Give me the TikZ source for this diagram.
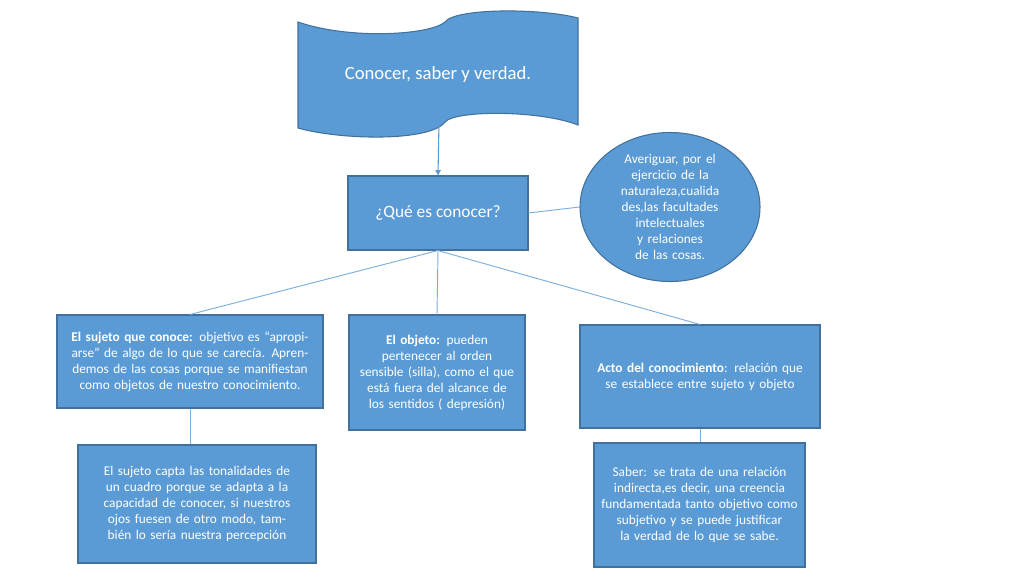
\documentclass[tikz,border=0pt]{standalone}
\usepackage{fontspec}
\setmainfont{Carlito}
\usetikzlibrary{arrows.meta,shapes.geometric}
\definecolor{fillb}{HTML}{5B9BD5}
\definecolor{edgeb}{HTML}{41719C}
\begin{document}
\begin{tikzpicture}[x=0.75pt,y=-0.75pt,
  bx/.style={draw=edgeb,fill=fillb,text=white,align=center,font=\fontsize{10}{12}\selectfont,inner sep=3pt,line width=0.8pt},
  ln/.style={draw=fillb!80,line width=0.7pt}]
\useasboundingbox (0,0) rectangle (1024,576);
\fill[white] (0,0) rectangle (1024,576);
\draw[draw=edgeb,fill=fillb,line width=0.8pt] (298,22) .. controls (350,40) and (430,35) .. (445,22) .. controls (455,8) and (540,8) .. (578,18) -- (578,125) .. controls (540,110) and (455,110) .. (445,122) .. controls (430,142) and (340,140) .. (298,128) -- cycle;
\node[text=white,font=\fontsize{14}{16}\selectfont] (t) at (438,75) {Conocer, saber y verdad.};
\coordinate (ta) at (439,122);
\node[bx,minimum width=180*0.75pt,minimum height=74*0.75pt,font=\fontsize{13}{15}\selectfont] (q) at (438,213) {¿Qué es conocer?};
\draw[fillb,line width=0.8pt,-{Triangle[width=4pt,length=4pt]}] (ta) -- (q.north);
\node[bx,ellipse,minimum width=180*0.75pt,minimum height=140*0.75pt,text width=78pt,inner sep=0pt] (e) at (670,207) {Averiguar, por el ejercicio de la naturaleza,cualida des,las facultades intelectuales y relaciones de las cosas.};
\draw[ln] (q.east) -- (e.west);
\node[bx,minimum width=266*0.75pt,minimum height=93*0.75pt,text width=190pt] (s) at (190,361.5) {\textbf{El sujeto que conoce:} objetivo es “apropiarse” de algo de lo que se carecía. Aprendemos de las cosas porque se manifiestan como objetos de nuestro conocimiento.};
\node[bx,minimum width=176*0.75pt,minimum height=115*0.75pt,text width=120pt] (o) at (437,372.5) {\textbf{El objeto:} pueden pertenecer al orden sensible (silla), como el que está fuera del alcance de los sentidos ( depresión)};
\node[bx,minimum width=240*0.75pt,minimum height=103*0.75pt,text width=170pt] (a) at (700,376.5) {\textbf{Acto del conocimiento}: relación que se establece entre sujeto y objeto};
\node[bx,minimum width=238*0.75pt,minimum height=118*0.75pt,text width=168pt] (s2) at (197,504) {El sujeto capta las tonalidades de un cuadro porque se adapta a la capacidad de conocer, si nuestros ojos fuesen de otro modo, también lo sería nuestra percepción};
\node[bx,minimum width=211*0.75pt,minimum height=124*0.75pt,text width=148pt] (a2) at (699.5,505) {Saber: se trata de una relación indirecta,es decir, una creencia fundamentada tanto objetivo como subjetivo y se puede justificar la verdad de lo que se sabe.};
\draw[ln] (q.south) -- (s.north);
\draw[ln] (q.south) -- (o.north);
\draw[ln] (q.south) -- (a.north);
\draw[ln] (s.south) -- (s2.north -| s.south);
\draw[ln] (a.south) -- (a2.north -| a.south);
\end{tikzpicture}
\end{document}
